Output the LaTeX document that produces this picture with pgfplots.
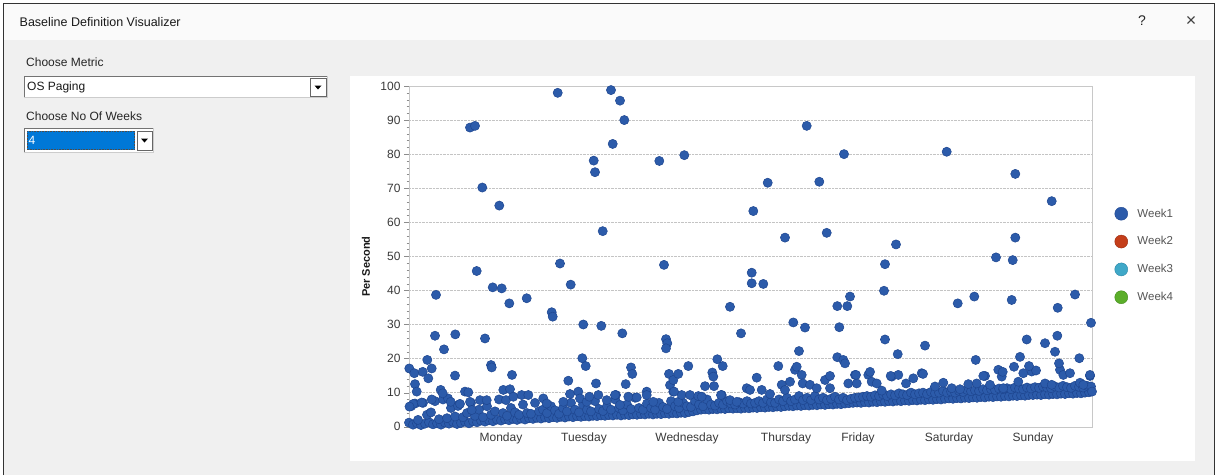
\documentclass[border=0pt]{standalone}
\usepackage{pgfplots}
\pgfplotsset{compat=1.18}
\usepackage{pgfplotstable}
\usepackage{fontspec}
\setmainfont{Liberation Sans}
\definecolor{w1}{HTML}{2C5BAA}
\definecolor{w1d}{HTML}{1E4690}
\definecolor{w2}{HTML}{C43E1A}
\definecolor{w2d}{HTML}{9A2C10}
\definecolor{w3}{HTML}{3FA8C8}
\definecolor{w3d}{HTML}{2A86A6}
\definecolor{w4}{HTML}{5BAE2A}
\definecolor{w4d}{HTML}{428A1A}
\definecolor{bodybg}{HTML}{F0F0F0}
\definecolor{titlebg}{HTML}{FAFAFA}
\definecolor{gridc}{HTML}{C4C4C4}
\definecolor{axisc}{HTML}{C8C8C8}
\definecolor{selblue}{HTML}{0078D7}
\definecolor{labc}{HTML}{3A3A3A}
\definecolor{legc}{HTML}{555555}

\pgfplotstableread{
x y
0 1.2
4 0.6
8 1.0
12 0.5
16 0.9
20 1.3
24 0.7
28 1.0
32 0.6
36 1.2
40 0.9
44 1.4
48 0.8
52 1.1
56 1.5
60 1.0
64 1.6
68 1.3
72 1.8
76 1.5
80 1.9
84 1.6
88 2.1
92 1.8
96 2.2
100 1.9
104 2.3
108 2.0
112 2.4
116 2.1
120 2.5
124 2.3
128 2.6
132 2.4
136 2.7
140 2.5
144 2.8
148 2.6
152 2.9
156 2.7
160 3.0
164 2.8
168 3.1
172 2.9
176 3.1
180 3.0
184 3.2
188 3.1
192 3.3
196 3.2
200 3.4
204 3.3
208 3.5
212 3.3
216 3.5
220 3.4
224 3.6
228 3.5
232 3.7
236 3.6
240 3.8
244 3.6
248 3.8
252 3.7
256 3.9
260 3.8
264 4.0
268 3.9
272 4.1
276 4.0
280 4.3
284 4.5
288 4.8
292 5.0
296 5.1
300 5.0
304 5.2
308 5.1
312 5.3
316 5.2
320 5.4
324 5.3
328 5.4
332 5.3
336 5.5
340 5.4
344 5.6
348 5.5
352 5.7
356 5.6
360 5.8
364 5.7
368 5.9
372 5.8
376 6.0
380 6.1
384 6.0
388 6.2
392 6.1
396 6.3
400 6.2
404 6.4
408 6.3
412 6.5
416 6.4
420 6.6
424 6.5
428 6.7
432 6.6
436 6.8
440 6.9
444 7.0
448 7.1
452 7.0
456 7.2
460 7.1
464 7.3
468 7.2
472 7.4
476 7.3
480 7.5
484 7.4
488 7.6
492 7.5
496 7.7
500 7.6
504 7.8
508 7.7
512 7.9
516 7.8
520 8.0
524 7.9
528 8.1
532 8.0
536 8.2
540 8.3
544 8.2
548 8.4
552 8.3
556 8.5
560 8.4
564 8.6
568 8.5
572 8.7
576 8.6
580 8.8
584 8.7
588 8.9
592 8.8
596 9.0
600 8.9
604 9.1
608 9.0
612 9.2
616 9.1
620 9.3
624 9.3
628 9.4
632 9.3
636 9.5
640 9.4
644 9.6
648 9.5
652 9.7
656 9.6
660 9.8
664 9.7
668 9.9
672 9.8
676 10.0
680 10.1
}\floor

\pgfplotstableread{
x y
2 6.0
6 6.8
9 2.0
14 7.0
18 3.5
22 4.2
26 7.5
30 2.2
34 8.0
38 2.5
42 5.5
46 3.0
50 6.5
54 2.8
58 4.0
62 7.0
66 3.2
70 5.0
74 2.8
78 6.0
82 3.5
86 4.5
90 8.0
94 4.0
98 3.2
102 5.5
106 4.2
110 3.5
114 6.5
118 4.0
122 3.8
126 7.0
130 4.5
134 5.0
138 4.0
142 6.0
146 4.8
150 3.8
154 5.5
158 4.5
162 7.0
166 5.0
170 4.2
174 6.5
178 5.0
182 4.5
186 7.5
190 5.2
194 4.6
198 6.0
202 5.0
206 8.0
210 5.5
214 4.8
218 6.5
222 5.2
226 8.5
230 5.5
234 5.0
238 6.8
242 5.5
246 5.0
250 7.0
254 5.8
258 5.2
262 7.5
266 6.0
270 5.5
274 7.0
278 6.0
282 5.8
286 7.5
290 6.5
294 6.0
298 8.0
302 6.5
306 6.2
310 7.0
314 6.5
318 7.5
322 6.8
326 6.5
330 7.2
334 6.8
338 7.5
342 6.8
346 7.0
350 7.5
354 7.0
358 8.0
362 7.2
366 7.0
370 8.0
374 7.5
378 8.5
382 7.5
386 8.0
390 9.0
394 7.8
398 8.5
402 7.8
406 9.0
410 8.0
414 8.5
418 7.8
422 8.2
426 8.8
430 8.0
434 8.5
438 7.8
442 8.2
446 8.5
450 8.6
454 8.8
458 9.0
462 8.8
466 9.2
470 9.0
474 9.5
478 9.0
482 9.5
486 9.2
490 9.8
494 9.5
498 9.3
502 10.0
506 9.5
510 9.8
514 10.0
518 9.6
522 10.2
526 9.8
530 10.0
534 10.5
538 10.0
542 10.3
546 10.0
550 10.5
554 10.2
558 10.8
562 10.4
566 10.7
570 10.5
574 11.0
578 10.7
582 11.0
586 10.8
590 11.2
594 11.0
598 11.3
602 11.0
606 11.5
610 11.2
614 11.0
618 11.5
622 11.2
626 11.6
630 11.4
634 11.8
638 11.5
642 11.3
646 11.8
650 11.5
654 12.0
658 11.6
662 11.4
666 12.0
670 11.7
674 11.5
678 12.0
682 11.8
}\rowtwo

\pgfplotstableread{
x y
4.3 6.7
12.7 7.1
22.7 8.0
39 8.3
41.7 7.3
49 6.1
51 6.7
56 10.3
59.3 10.1
61 7.3
62.7 4.9
71 7.8
77.7 7.8
94.3 10.8
97 7.8
101 11.0
104.3 8.8
112.7 9.3
119.3 9.3
134.3 8.3
137.7 6.8
154.3 7.3
161 9.6
169.3 10.3
171 8.3
177.7 7.3
180.3 8.8
189.3 9.3
197.7 7.8
207 9.3
211 6.4
219.3 8.8
227.7 8.6
237.7 10.3
237.7 9.3
244.3 7.3
264.3 10.3
269.3 7.3
272.7 9.3
281 9.3
289.3 9.0
292.7 8.8
312.7 9.3
321 7.8
327.7 7.3
337.7 11.3
341 10.8
347.7 14.4
352.7 10.8
361 9.6
372.7 12.3
376 10.8
381 13.2
386 16.7
387.7 17.6
392.7 15.2
393.7 12.7
401 12.3
407.7 11.3
416 13.7
421 14.9
421 11.3
439.3 12.7
446 15.2
447.7 12.7
459.3 15.2
462.7 13.2
467.7 12.7
472.7 10.6
482.7 14.7
489.3 15.2
497 12.7
504.3 14.2
512.7 15.7
526 11.8
534.3 12.9
542.7 11.3
551 11.0
559.3 12.5
567.7 12.7
576 14.9
581 12.3
589.3 16.7
592.7 14.7
594.3 11.3
609.3 13.2
614.3 15.7
622.7 16.2
627 16.5
636 12.7
642.7 12.3
651 16.7
654.3 15.2
661 15.7
671 12.9
674.3 12.3
681 14.9
683 10.3
}\midpts

\pgfplotstableread{
x y
0.3 17.1
5.3 15.7
6 12.5
7.7 10.3
0.5 5.9
13.7 16.1
18.3 19.6
19.3 14.2
22.7 17.1
26 26.7
27 38.7
31.7 10.8
33.7 9.8
35 22.7
46 15.0
46.3 27.1
61 87.8
66 88.3
67.7 45.7
73.3 70.2
76 25.9
82 18.1
82.7 17.4
83.7 40.9
90.3 64.9
92.7 40.6
100.3 36.2
103 15.2
117.7 37.7
142.7 33.6
143.7 32.3
148.7 98.0
151 47.9
159.3 13.5
161.7 41.7
173.3 20.1
174.3 30.0
176.7 17.8
184.7 78.1
186 74.7
187 12.7
192.3 29.6
193.7 57.4
202 98.8
203.7 83.0
206 9.3
211 95.7
213.3 27.4
215.3 90.0
216.7 12.5
222 17.4
223.3 15.5
250.3 78.0
255 47.5
257 25.7
258.3 24.5
257 23.0
260 15.5
261 12.2
264.3 13.7
265 10.3
269.3 15.5
275.3 79.7
279.3 17.8
296 11.9
303.3 15.9
304.3 14.7
305 11.9
308.3 19.8
312 9.3
313.7 17.8
321 35.2
332 27.4
342.7 45.2
342.7 42.1
344.3 63.3
354.3 41.9
358.7 71.6
369.3 17.8
376 55.5
384.3 30.6
390 22.2
396 29.1
397.7 88.3
410.3 71.9
417.7 56.9
428.3 35.4
428.3 20.4
430.3 29.2
434.3 19.6
435 80.0
436 18.6
438.3 35.4
441 38.2
447 15.2
461 16.1
475 39.9
476 47.7
476 25.6
481.7 14.9
487 53.5
488.7 21.3
514 15.5
516 23.8
537.7 80.7
548.7 36.2
565.3 38.2
566.7 19.6
574.3 14.9
587 49.7
593.7 16.1
602.7 37.2
603.7 48.9
605 17.6
606.3 74.2
606.3 55.5
611 20.5
617.7 25.6
620 17.8
636 24.5
642.7 66.2
646 22.0
648.3 26.7
648.7 34.9
650 18.6
666 38.8
670.3 20.1
681 15.2
682 30.5
}\outliers

\begin{document}
\begin{tikzpicture}
\begin{scope}[x=1pt,y=-1pt]
\useasboundingbox (0,0) rectangle (1218,475);
\fill[white] (0,0) rectangle (1218,475);
\fill[titlebg] (4,4) rectangle (1214,40);
\fill[bodybg] (4,40) rectangle (1214,475);
\draw[black!80, line width=1.5pt] (3.5,475) -- (3.5,3.5) -- (1214.5,3.5) -- (1214.5,475);
\node[anchor=west, inner sep=0pt, text=black!90, font=\fontsize{12.5}{14}\selectfont] at (19.5,22) {Baseline Definition Visualizer};
\node[inner sep=0pt, text=black!85, font=\fontsize{14}{16}\selectfont] at (1142,21) {?};
\node[inner sep=0pt, text=black!75, font=\fontsize{18}{20}\selectfont] at (1191,21) {×};
% left controls
\node[anchor=west, inner sep=0pt, text=black!85, font=\fontsize{12}{14}\selectfont] at (26,62) {Choose Metric};
\fill[white] (24,76) rectangle (328,98);
\draw[black!55, line width=0.8pt] (24.4,98) -- (24.4,76.4) -- (328,76.4);
\draw[black!20, line width=0.8pt] (24.4,97.6) -- (327.6,97.6) -- (327.6,76.4);
\node[anchor=west, inner sep=0pt, text=black!90, font=\fontsize{12}{14}\selectfont] at (27,87.5) {OS Paging};
\fill[white] (310,78) rectangle (326,96);
\draw[black!60, line width=0.7pt] (310,78) rectangle (326,96);
\fill[black] (314.5,85.5) -- (321.5,85.5) -- (318,89.5) -- cycle;
\node[anchor=west, inner sep=0pt, text=black!85, font=\fontsize{12}{14}\selectfont] at (26,116) {Choose No Of Weeks};
\fill[white] (24,128) rectangle (154,153);
\draw[black!55, line width=0.8pt] (24.4,153) -- (24.4,128.4) -- (154,128.4);
\draw[black!20, line width=0.8pt] (24.4,152.6) -- (153.6,152.6) -- (153.6,128.4);
\fill[selblue] (27,131) rectangle (135,150);
\draw[black!70, densely dotted, line width=0.6pt] (27.3,131.3) rectangle (134.7,149.7);
\node[anchor=west, inner sep=0pt, text=white, font=\fontsize{12}{14}\selectfont] at (28.5,140.5) {4};
\fill[white] (137,131) rectangle (152,150);
\draw[black!60, line width=0.7pt] (137,131) rectangle (152,150);
\fill[black] (141,138.5) -- (148,138.5) -- (144.5,142.5) -- cycle;
% chart panel
\fill[white] (350,76) rectangle (1195,461);
\end{scope}
\begin{axis}[
  at={(409pt,-426.7pt)}, anchor=south west,
  width=683pt, height=340.7pt, scale only axis,
  xmin=0, xmax=683, ymin=0, ymax=100,
  clip=false,
  axis line style={draw=axisc},
  ytick={0,10,...,100},
  minor y tick num=4,
  ytick pos=left,
  tick align=outside,
  major tick length=5pt, minor tick length=2.5pt,
  y tick style={draw=black!45},
  xtick={92,175,278,377,449,540,624},
  xticklabels={Monday,Tuesday,Wednesday,Thursday,Friday,Saturday,Sunday},
  x tick style={draw=none},
  xticklabel style={yshift=2pt},
  ymajorgrids,
  major grid style={densely dotted, draw=gridc},
  ticklabel style={font=\fontsize{12}{14}\selectfont, text=labc},
  /pgf/number format/assume math mode=true,
  every axis y label/.style={at={(rel axis cs:-0.063,0.47)}, rotate=90, anchor=center},
  ylabel={Per Second},
  ylabel style={font=\bfseries\fontsize{11}{13}\selectfont, text=black!90},
  legend image code/.code={\draw[#1] plot coordinates {(6pt,0pt)}; \path (-1pt,0pt) (20pt,0pt);},
  legend style={draw=none, fill=none, at={(1.032,0.646)}, anchor=north west,
    font=\fontsize{11.5}{13}\selectfont, text=legc, row sep=14pt, inner sep=0pt,
    nodes={inner sep=2pt}},
  legend cell align=left,
]
\addplot[only marks, mark=*, mark size=4.6pt, mark options={fill=w1, draw=w1d, line width=0.5pt}, forget plot] table[x=x,y=y] {\floor};
\addplot[only marks, mark=*, mark size=4.6pt, mark options={fill=w1, draw=w1d, line width=0.5pt}, forget plot] table[x=x,y=y] {\rowtwo};
\addplot[only marks, mark=*, mark size=4.6pt, mark options={fill=w1, draw=w1d, line width=0.5pt}, forget plot] table[x=x,y=y] {\midpts};
\addplot[only marks, mark=*, mark size=4.6pt, mark options={fill=w1, draw=w1d, line width=0.5pt}, forget plot] table[x=x,y=y] {\outliers};
\addlegendimage{only marks, mark=*, mark size=6.5pt, mark options={fill=w1, draw=w1d}}
\addlegendentry{Week1}
\addlegendimage{only marks, mark=*, mark size=6.5pt, mark options={fill=w2, draw=w2d}}
\addlegendentry{Week2}
\addlegendimage{only marks, mark=*, mark size=6.5pt, mark options={fill=w3, draw=w3d}}
\addlegendentry{Week3}
\addlegendimage{only marks, mark=*, mark size=6.5pt, mark options={fill=w4, draw=w4d}}
\addlegendentry{Week4}
\end{axis}
\end{tikzpicture}
\end{document}
